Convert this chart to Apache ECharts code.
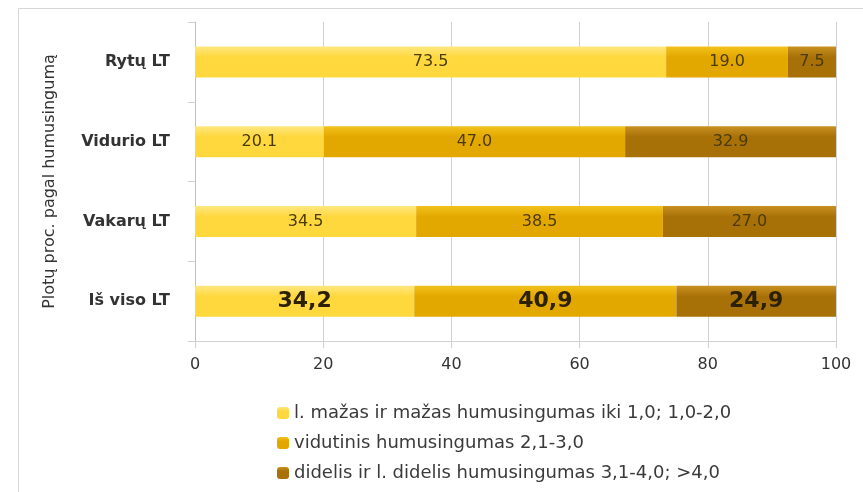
<!DOCTYPE html>
<html><head><meta charset="utf-8">
<script src="https://cdn.jsdelivr.net/npm/echarts@6/dist/echarts.min.js"></script>
<style>html,body{margin:0;padding:0;background:#fff}#c{width:863px;height:492px}</style>
</head><body><div id="c"></div>
<script>
const categories = ["Rytų LT", "Vidurio LT", "Vakarų LT", "Iš viso LT"];
const seriesNames = [
  "l. mažas ir mažas humusingumas iki 1,0; 1,0-2,0",
  "vidutinis humusingumas 2,1-3,0",
  "didelis ir l. didelis humusingumas 3,1-4,0; >4,0"
];
const lowValues = [73.5, 20.1, 34.5, 34.2];
const midValues = [19.0, 47.0, 38.5, 40.9];
const highValues = [7.5, 32.9, 27.0, 24.9];
const xTicks = [0, 20, 40, 60, 80, 100];
const yAxisName = "Plotų proc. pagal humusingumą";

const colors = [
  ["#FFE780", "#FFD83E"],
  ["#F2C21C", "#E3A800"],
  ["#C99120", "#A87108"]
];
function grad(c) {
  return new echarts.graphic.LinearGradient(0, 0, 0, 1, [
    {offset: 0, color: c[0]}, {offset: 0.35, color: c[1]}, {offset: 1, color: c[1]}
  ]);
}
function label() {
  return {
    show: true, position: 'inside', fontFamily: 'DejaVu Sans', fontSize: 16, color: '#4a3b05',
    formatter: p => p.dataIndex === 3 ? '{b|' + p.value.toFixed(1).replace('.', ',') + '}' : p.value.toFixed(1),
    rich: {b: {fontFamily: 'DejaVu Sans', fontSize: 22, fontWeight: 'bold', color: '#2b2000'}}
  };
}
const dataSets = [lowValues, midValues, highValues];
const chart = echarts.init(document.getElementById('c'), null, {renderer: 'canvas'});
chart.setOption({
  animation: false,
  graphic: [{type: 'rect', shape: {x: 18.5, y: 8.5, width: 900, height: 600}, style: {fill: 'none', stroke: '#d6d6d6', lineWidth: 1}, silent: true, z: -1}],
  grid: {left: 195, right: 27, top: 22, bottom: 151},
  legend: {
    orient: 'vertical', left: 272, top: 399, itemWidth: 12, itemHeight: 12, itemGap: 12,
    data: seriesNames,
    textStyle: {fontFamily: 'DejaVu Sans', fontSize: 18, color: '#3a3a3a'}
  },
  xAxis: {
    type: 'value', min: 0, max: 100, interval: 20,
    axisLine: {show: true, lineStyle: {color: '#d0d0d0'}},
    axisTick: {show: true, length: 7, lineStyle: {color: '#d0d0d0'}},
    splitLine: {show: true, lineStyle: {color: '#d0d0d0'}},
    axisLabel: {margin: 16, fontFamily: 'DejaVu Sans', fontSize: 16, color: '#333', formatter: v => xTicks.includes(v) ? String(v) : ''}
  },
  yAxis: {
    type: 'category', data: categories, inverse: true,
    name: yAxisName, nameLocation: 'middle', nameGap: 137, nameRotate: 90,
    nameTextStyle: {fontFamily: 'DejaVu Sans', fontSize: 16, color: '#333'},
    axisLine: {show: true, lineStyle: {color: '#a9c4e6'}},
    axisTick: {show: true, length: 7, lineStyle: {color: '#d0d0d0'}},
    axisLabel: {margin: 25, fontFamily: 'DejaVu Sans', fontSize: 16, fontWeight: 'bold', color: '#333'}
  },
  series: dataSets.map((d, i) => ({
    type: 'bar', name: seriesNames[i], stack: 'total', data: d, barWidth: 31,
    itemStyle: {color: grad(colors[i])}, label: label()
  }))
});
</script></body></html>
